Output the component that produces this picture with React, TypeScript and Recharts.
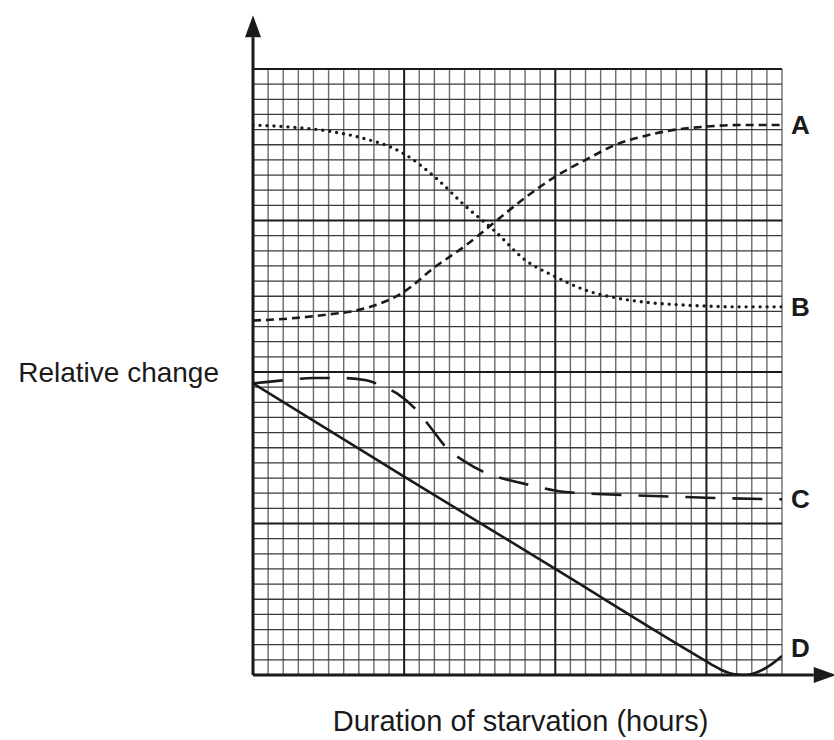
import React from "react";
import {
  LineChart,
  Line,
  XAxis,
  YAxis,
  ReferenceLine,
  ReferenceDot,
} from "recharts";

// x and y in grid squares (35 small squares across, 40 up)
const seriesA = [
  { x: 0, y: 23.4 }, { x: 2, y: 23.5 }, { x: 5, y: 23.8 }, { x: 7, y: 24.1 },
  { x: 10, y: 25.3 }, { x: 12, y: 26.9 }, { x: 14, y: 28.3 }, { x: 16, y: 29.9 },
  { x: 18, y: 31.5 }, { x: 20, y: 32.9 }, { x: 22, y: 34.0 }, { x: 24, y: 35.0 },
  { x: 26, y: 35.6 }, { x: 28, y: 36.0 }, { x: 30, y: 36.2 }, { x: 32, y: 36.3 },
  { x: 35, y: 36.3 },
];

const seriesB = [
  { x: 0, y: 36.3 }, { x: 2, y: 36.2 }, { x: 5, y: 35.9 }, { x: 7, y: 35.5 },
  { x: 10, y: 34.4 }, { x: 12, y: 32.9 }, { x: 14, y: 31.0 }, { x: 16, y: 29.3 },
  { x: 18, y: 27.4 }, { x: 20, y: 26.3 }, { x: 22, y: 25.4 }, { x: 24, y: 24.9 },
  { x: 26, y: 24.6 }, { x: 28, y: 24.45 }, { x: 30, y: 24.35 }, { x: 32, y: 24.3 },
  { x: 35, y: 24.3 },
];

const seriesC = [
  { x: 0, y: 19.25 }, { x: 2, y: 19.45 }, { x: 4, y: 19.6 }, { x: 6, y: 19.6 },
  { x: 7.5, y: 19.45 }, { x: 8.5, y: 19.1 }, { x: 9.5, y: 18.6 }, { x: 10.8, y: 17.5 },
  { x: 11.7, y: 16.4 }, { x: 12.8, y: 15.0 }, { x: 14, y: 14.1 }, { x: 15.5, y: 13.3 },
  { x: 17, y: 12.85 }, { x: 18.5, y: 12.5 }, { x: 20.5, y: 12.1 }, { x: 24, y: 11.9 },
  { x: 27, y: 11.8 }, { x: 30, y: 11.7 }, { x: 35, y: 11.6 },
];

const seriesD = [
  { x: 0, y: 19.25 }, { x: 10, y: 13.1 }, { x: 20, y: 7.0 }, { x: 29, y: 1.49 },
  { x: 30, y: 0.9 }, { x: 30.5, y: 0.6 }, { x: 31, y: 0.33 }, { x: 31.5, y: 0.14 },
  { x: 32, y: 0.03 }, { x: 32.5, y: 0 }, { x: 33, y: 0.07 }, { x: 33.5, y: 0.25 },
  { x: 34, y: 0.5 }, { x: 34.5, y: 0.85 }, { x: 35, y: 1.25 },
];

const curveLabels = [
  { name: "A", y: 36.3 },
  { name: "B", y: 24.3 },
  { name: "C", y: 11.6 },
  { name: "D", y: 1.8 },
];

const xMinor = Array.from({ length: 36 }, (_, i) => i);
const yMinor = Array.from({ length: 41 }, (_, i) => i);
const xMajor = [0, 10, 20, 30];
const yMajor = [0, 10, 20, 30, 40];

const font = "'Liberation Sans', Arial, Helvetica, sans-serif";

export default function App() {
  return (
    <div style={{ position: "absolute", left: 0, top: 0, background: "#fff" }}>
      <LineChart width={834} height={740} margin={{ top: 69, right: 52, bottom: 65, left: 253 }}>
        <XAxis dataKey="x" type="number" domain={[0, 35]} hide allowDataOverflow />
        <YAxis type="number" domain={[0, 40]} hide allowDataOverflow />

        {xMinor.filter((v) => !xMajor.includes(v)).map((v) => (
          <ReferenceLine key={"xm" + v} x={v} stroke="#6b6b6b" strokeWidth={1.4} />
        ))}
        {yMinor.filter((v) => !yMajor.includes(v)).map((v) => (
          <ReferenceLine key={"ym" + v} y={v} stroke="#3a3a3a" strokeWidth={1.3} />
        ))}
        {xMajor.map((v) => (
          <ReferenceLine key={"xM" + v} x={v} stroke="#1a1a1a" strokeWidth={2} />
        ))}
        {yMajor.map((v) => (
          <ReferenceLine key={"yM" + v} y={v} stroke="#1a1a1a" strokeWidth={2} />
        ))}

        <Line data={seriesA} dataKey="y" type="monotone" stroke="#1a1a1a" strokeWidth={2.6}
          strokeDasharray="8 5" dot={false} isAnimationActive={false} />
        <Line data={seriesB} dataKey="y" type="monotone" stroke="#1a1a1a" strokeWidth={3.4}
          strokeDasharray="0 7" strokeLinecap="round" dot={false} isAnimationActive={false} />
        <Line data={seriesC} dataKey="y" type="monotone" stroke="#1a1a1a" strokeWidth={2.6}
          strokeDasharray="30 17" dot={false} isAnimationActive={false} />
        <Line data={seriesD} dataKey="y" type="monotone" stroke="#1a1a1a" strokeWidth={2.6}
          dot={false} isAnimationActive={false} />

        {/* axes with arrow heads */}
        <ReferenceLine segment={[{ x: 0, y: 0 }, { x: 0, y: 42.1 }]} stroke="#1a1a1a"
          strokeWidth={3} ifOverflow="visible" />
        <ReferenceLine segment={[{ x: 0, y: 0 }, { x: 37.1, y: 0 }]} stroke="#1a1a1a"
          strokeWidth={3} ifOverflow="visible" />
        <ReferenceDot x={0} y={42.1} ifOverflow="visible"
          shape={(p: any) => (
            <polygon points={`${p.cx - 8},${p.cy} ${p.cx + 8},${p.cy} ${p.cx},${p.cy - 22}`} fill="#1a1a1a" />
          )} />
        <ReferenceDot x={37.1} y={0} ifOverflow="visible"
          shape={(p: any) => (
            <polygon points={`${p.cx},${p.cy - 8} ${p.cx},${p.cy + 8} ${p.cx + 22},${p.cy}`} fill="#1a1a1a" />
          )} />

        {curveLabels.map((l) => (
          <ReferenceDot key={l.name} x={35} y={l.y} ifOverflow="visible"
            shape={(p: any) => (
              <text x={p.cx + 9} y={p.cy} dominantBaseline="central" fontFamily={font}
                fontWeight="bold" fontSize={26} fill="#1a1a1a">{l.name}</text>
            )} />
        ))}

        <ReferenceDot x={0} y={20} ifOverflow="visible"
          shape={(p: any) => (
            <text x={p.cx - 34} y={p.cy} dominantBaseline="central" textAnchor="end"
              fontFamily={font} fontSize={28} fill="#1a1a1a">Relative change</text>
          )} />
        <ReferenceDot x={17.7} y={0} ifOverflow="visible"
          shape={(p: any) => (
            <text x={p.cx} y={p.cy + 56} textAnchor="middle"
              fontFamily={font} fontSize={29} fill="#1a1a1a">Duration of starvation (hours)</text>
          )} />
      </LineChart>
    </div>
  );
}
